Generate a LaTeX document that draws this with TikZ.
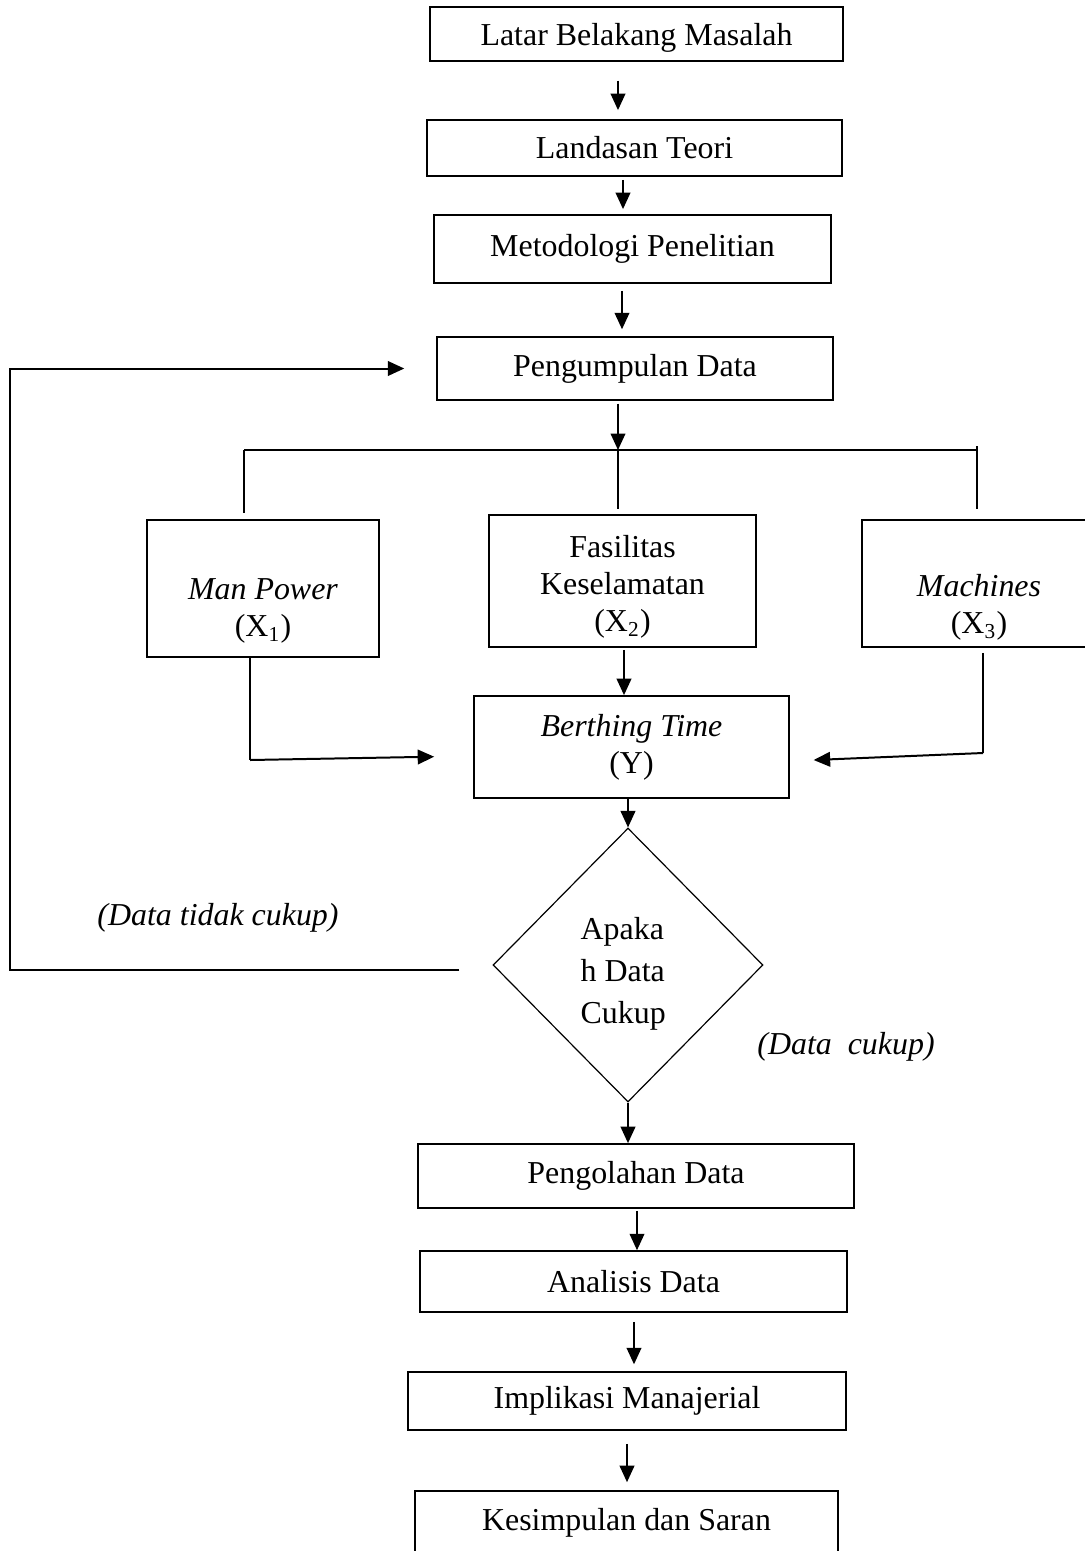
\documentclass[tikz,border=0pt]{standalone}
\usepackage{fontspec}
\setmainfont{Liberation Serif}
\usetikzlibrary{shapes.geometric,arrows.meta}
\tikzset{
>={Triangle[length=6.2pt,width=5.5pt]},
every node/.style={font=\fontsize{12}{14}\selectfont},
box/.style={draw, line width=0.6pt, inner sep=0pt, align=center},
flow/.style={->, line width=0.75pt},
link/.style={line width=0.45pt},
decision/.style={draw, diamond, line width=0.45pt, inner sep=0pt},
}

\begin{document}
\begin{tikzpicture}[x=0.376pt, y=-0.376pt]
        \useasboundingbox (0,0) rectangle (1085,1551);
        \clip (0,0) rectangle (1085,1551);

        \node[box, minimum width=155.3pt, minimum height=20.3pt, text depth=0pt] (latar) at (636.5,34) {Latar Belakang Masalah};
        \node[box, minimum width=156pt, minimum height=21.1pt] (teori) at (634.5,148) {Landasan Teori};
        \node[box, minimum width=149.3pt, minimum height=25.6pt] (metode) at (632.5,249) {Metodologi Penelitian};
        \node[box, minimum width=148.9pt, minimum height=23.7pt] (peng) at (635,368.5) {Pengumpulan Data};
        \node[box, minimum width=87.2pt, minimum height=51.5pt] (mp) at (263,588.5) {};
        \node[box, minimum width=100.4pt, minimum height=49.6pt] (fas) at (622.5,581) {};
        \node[box, minimum width=88pt, minimum height=47.8pt] (mach) at (979,583.5) {};
        \node[box, minimum width=118.4pt, minimum height=38.4pt] (berth) at (631.5,747) {\textit{Berthing Time}\\(Y)};
        \node[decision, minimum width=101.5pt, minimum height=103pt] (dec) at (628,965) {};
        \node[box, minimum width=163.9pt, minimum height=24.1pt] (olah) at (636,1176) {Pengolahan Data};
        \node[box, minimum width=160.6pt, minimum height=22.9pt] (anal) at (633.5,1281.5) {Analisis Data};
        \node[box, minimum width=164.7pt, minimum height=21.8pt] (impl) at (627,1401) {Implikasi Manajerial};
        \node[box, minimum width=159pt, minimum height=24.1pt] (simp) at (626.5,1523) {Kesimpulan dan Saran};

        \node[align=center] (mptext) at ([yshift=-8.4pt]mp.center) {\textit{Man Power}\\(X\textsubscript{1})};
        \node[align=center] (fastext) at ([yshift=-2.2pt]fas.center) {Fasilitas\\Keselamatan\\(X\textsubscript{2})};
        \node[align=center] (machtext) at ([yshift=-9pt]mach.center) {\textit{Machines}\\(X\textsubscript{3})};
        \node[align=left, font=\fontsize{12}{15.8}\selectfont] (dectext) at ([xshift=-1.8pt,yshift=-3.4pt]dec.center) {Apaka\\h Data\\Cukup};

        \node (notok) at (218,918) {\textit{(Data tidak cukup)}};
        \node (ok) at (846,1047) {\textit{(Data\ \ cukup)}};

        \coordinate (split) at (618,450);
        \coordinate (barL) at (244,450);
        \coordinate (barR) at (977,450);
        \coordinate (mpbend) at (250,760);
        \coordinate (machbend) at (983,753);
        \coordinate (loop) at (10,970);

        \draw[flow, shorten <=7.1pt, shorten >=3.4pt] (latar.south -| 618,0) -- (teori.north -| 618,0);
        \draw[flow, shorten <=1.1pt, shorten >=1.9pt] (teori.south -| 623,0) -- (metode.north -| 623,0);
        \draw[flow, shorten <=2.6pt, shorten >=2.6pt] (metode.south -| 622,0) -- (peng.north -| 622,0);
        \draw[flow, shorten <=1.1pt] (peng.south -| split) -- (split);

        \draw[link] (barL) -- (barR);
        \draw[link, shorten >=2.3pt] (barL) -- (mp.north -| barL);
        \draw[link, shorten >=1.9pt] (split) -- (fas.north -| split);
        \draw[link, shorten >=3.8pt] ([yshift=1.5pt]barR) -- (mach.north -| barR);

        \draw[flow, shorten <=0.8pt] (fas.south -| 624,0) -- (berth.north -| 624,0);
        \draw[link] (mp.south -| mpbend) -- (mpbend);
        \draw[flow, shorten >=14.7pt] (mpbend) -- (berth.west |- 0,756);
        \draw[link, shorten <=1.9pt] (mach.south -| machbend) -- (machbend);
        \draw[flow, shorten >=9pt] (machbend) -- (berth.east |- 0,761);

        \draw[flow] (berth.south -| dec.north) -- (dec.north);
        \draw[flow, shorten <=12.4pt, shorten >=12pt] (dec.west |- loop) -- (loop) |- (peng.west);
        \draw[flow] (dec.south) -- (olah.north -| dec.south);

        \draw[flow, shorten <=0.8pt] (olah.south -| 637,0) -- (anal.north -| 637,0);
        \draw[flow, shorten <=3.4pt, shorten >=2.6pt] (anal.south -| 634,0) -- (impl.north -| 634,0);
        \draw[flow, shorten <=4.9pt, shorten >=3pt] (impl.south -| 627,0) -- (simp.north -| 627,0);

    \end{tikzpicture}
\end{document}
